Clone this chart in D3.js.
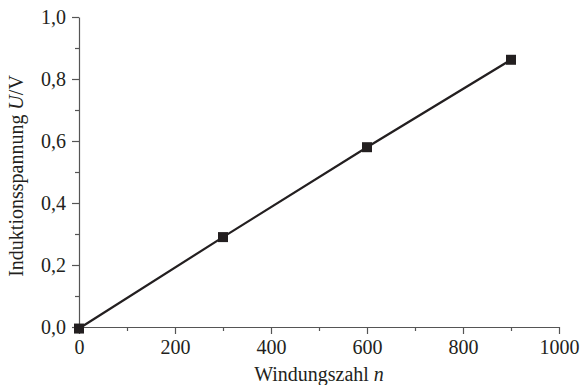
<!DOCTYPE html>
<html>
<head>
<meta charset="utf-8">
<script src="https://cdn.jsdelivr.net/npm/d3@7"></script>
<style>
  body { margin: 0; background: #fff; }
  text { font-family: "Liberation Serif", "DejaVu Serif", serif; fill: #231f20; }
</style>
</head>
<body>
<div id="chart"></div>
<script>
const windungen = [0, 300, 600, 900];
const spannung = [-0.005, 0.29, 0.58, 0.862];
const xTicks = [0, 200, 400, 600, 800, 1000];
const yTicks = [0, 0.2, 0.4, 0.6, 0.8, 1.0];

const width = 584, height = 385;
const margin = { top: 17, right: 25, bottom: 58, left: 79 };
const w = width - margin.left - margin.right;
const h = height - margin.top - margin.bottom;

const svg = d3.select('#chart').append('svg')
  .attr('width', width)
  .attr('height', height);

const chart = svg.append('g')
  .attr('transform', `translate(${margin.left},${margin.top})`);

const x = d3.scaleLinear().domain([0, 1000]).range([0, w]);
const y = d3.scaleLinear().domain([0, 1]).range([h, 0]);

const fmt = d => d3.format('.1f')(d).replace('.', ',');

// minor ticks
chart.append('g')
  .attr('transform', `translate(0,${h})`)
  .call(d3.axisBottom(x).tickValues(d3.range(100, 1000, 200)).tickSize(4).tickFormat(''))
  .call(g => g.select('.domain').remove());
chart.append('g')
  .call(d3.axisLeft(y).tickValues([0.1, 0.3, 0.5, 0.7, 0.9]).tickSize(4).tickFormat(''))
  .call(g => g.select('.domain').remove());

const xAxis = chart.append('g')
  .attr('transform', `translate(0,${h})`)
  .call(d3.axisBottom(x).tickValues(xTicks).tickFormat(d3.format('d')).tickSize(7).tickSizeOuter(0).tickPadding(5));
xAxis.selectAll('text').attr('font-size', 20).attr('dy', '0.75em');

const yAxis = chart.append('g')
  .call(d3.axisLeft(y).tickValues(yTicks).tickFormat(fmt).tickSize(7).tickSizeOuter(0).tickPadding(6));
yAxis.selectAll('text').attr('font-size', 20);

chart.selectAll('.domain, .tick line').attr('stroke', '#555').attr('stroke-width', 1.2);

// line and markers
const pts = windungen.map((d, i) => [d, spannung[i]]);
chart.append('path')
  .datum(pts)
  .attr('fill', 'none')
  .attr('stroke', '#231f20')
  .attr('stroke-width', 2.2)
  .attr('d', d3.line().x(d => x(d[0])).y(d => y(d[1])));

chart.selectAll('rect.pt')
  .data(pts)
  .enter()
  .append('rect')
  .attr('class', 'pt')
  .attr('x', d => x(d[0]) - 5)
  .attr('y', d => y(d[1]) - 5)
  .attr('width', 10)
  .attr('height', 10)
  .attr('fill', '#231f20');

// axis titles
const xt = svg.append('text')
  .attr('x', margin.left + w / 2)
  .attr('y', 381)
  .attr('text-anchor', 'middle')
  .attr('font-size', 20);
xt.append('tspan').text('Windungszahl ');
xt.append('tspan').attr('font-style', 'italic').text('n');

const yt = svg.append('text')
  .attr('transform', `translate(23,${margin.top + h / 2 + 4}) rotate(-90)`)
  .attr('text-anchor', 'middle')
  .attr('font-size', 20);
yt.append('tspan').text('Induktionsspannung ');
yt.append('tspan').attr('font-style', 'italic').text('U');
yt.append('tspan').text('/V');
</script>
</body>
</html>
